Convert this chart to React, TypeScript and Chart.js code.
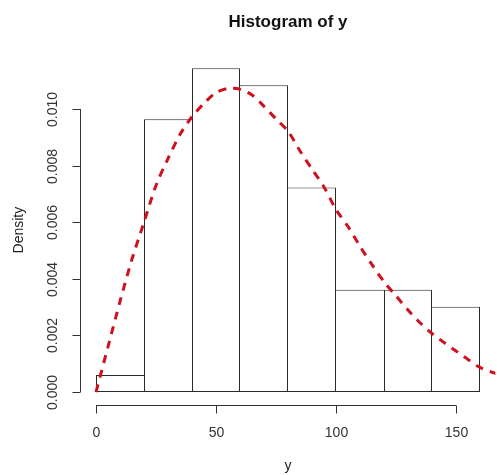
import React, { useEffect, useRef } from "react";
import { Chart, registerables } from "chart.js";

Chart.register(...registerables);

// Histogram bins (left edges, width 20) and densities
const binStarts = [0, 20, 40, 60, 80, 100, 120, 140];
const binWidth = 20;
const densities = [0.000602, 0.009639, 0.011446, 0.010843, 0.007229, 0.003614, 0.003614, 0.003012];

// Fitted density curve
const curveX = [0, 5, 10, 15, 20, 25, 30, 35, 40, 45, 50, 55, 60, 65, 70, 75, 80, 85, 90, 95, 100, 105, 110, 115, 120, 125, 130, 135, 140, 145, 150, 155, 160, 165, 168];
const curveY = [0, 0.0016, 0.0032, 0.0047, 0.006, 0.0073, 0.00825, 0.0091, 0.00973, 0.0102, 0.01058, 0.01073, 0.0107, 0.0105, 0.0101, 0.00965, 0.00922, 0.00852, 0.00788, 0.00725, 0.00645, 0.00585, 0.00515, 0.0045, 0.0039, 0.0034, 0.0029, 0.00245, 0.00207, 0.00175, 0.00145, 0.00115, 0.00087, 0.0007, 0.00062];

// Axis ticks
const xTicks = [0, 50, 100, 150];
const yTicks = [0, 0.002, 0.004, 0.006, 0.008, 0.01];

const titleText = "Histogram of y";
const xTitle = "y";
const yTitle = "Density";

const FONT = "'Liberation Sans', Arial, sans-serif";

export default function App() {
  const ref = useRef<HTMLCanvasElement | null>(null);

  useEffect(() => {
    const canvas = ref.current;
    if (!canvas) return;

    const xLo = binStarts[0];
    const xHi = binStarts[binStarts.length - 1] + binWidth;
    const xExt = (xHi - xLo) * 0.04;
    const yHi = Math.max(...densities);
    const yExt = yHi * 0.04;
    const last = densities.length - 1;

    const axesPlugin = {
      id: "rAxes",
      afterDraw(chart: any) {
        const ctx = chart.ctx as CanvasRenderingContext2D;
        const xs = chart.scales.x;
        const ys = chart.scales.y;
        const area = chart.chartArea;
        ctx.save();
        ctx.strokeStyle = "#333";
        ctx.fillStyle = "#333";
        ctx.lineWidth = 1;

        // x axis
        const xAxisY = Math.round(area.bottom) + 0.5;
        ctx.beginPath();
        ctx.moveTo(xs.getPixelForValue(xTicks[0]), xAxisY);
        ctx.lineTo(xs.getPixelForValue(xTicks[xTicks.length - 1]), xAxisY);
        ctx.stroke();
        ctx.font = `14px ${FONT}`;
        ctx.textAlign = "center";
        ctx.textBaseline = "middle";
        xTicks.forEach((t) => {
          const px = Math.round(xs.getPixelForValue(t)) + 0.5;
          ctx.beginPath();
          ctx.moveTo(px, xAxisY);
          ctx.lineTo(px, xAxisY + 8);
          ctx.stroke();
          ctx.fillText(String(t), px, xAxisY + 28);
        });

        // y axis
        const yAxisX = Math.round(area.left) - 0.5;
        ctx.beginPath();
        ctx.moveTo(yAxisX, ys.getPixelForValue(yTicks[0]));
        ctx.lineTo(yAxisX, ys.getPixelForValue(yTicks[yTicks.length - 1]));
        ctx.stroke();
        yTicks.forEach((t) => {
          const py = Math.round(ys.getPixelForValue(t)) + 0.5;
          ctx.beginPath();
          ctx.moveTo(yAxisX, py);
          ctx.lineTo(yAxisX - 8, py);
          ctx.stroke();
          ctx.save();
          ctx.translate(yAxisX - 27, py);
          ctx.rotate(-Math.PI / 2);
          ctx.fillText(t.toFixed(3), 0, 0);
          ctx.restore();
        });

        // titles
        const cx = (area.left + area.right) / 2;
        const cy = (area.top + area.bottom) / 2;
        ctx.fillStyle = "#222";
        ctx.fillText(xTitle, cx, 466);
        ctx.save();
        ctx.translate(19, cy);
        ctx.rotate(-Math.PI / 2);
        ctx.fillText(yTitle, 0, 0);
        ctx.restore();

        ctx.font = `bold 17px ${FONT}`;
        ctx.fillStyle = "#111";
        ctx.fillText(titleText, cx, 22);
        ctx.restore();
      },
    };

    const chart = new Chart(canvas, {
      type: "bar",
      data: {
        datasets: [
          {
            type: "line",
            order: 1,
            data: curveX.map((x, i) => ({ x, y: curveY[i] })),
            borderColor: "rgb(205,18,30)",
            borderWidth: 3,
            borderDash: [8, 7],
            borderCapStyle: "butt",
            pointRadius: 0,
            tension: 0.3,
            fill: false,
          } as any,
          {
            type: "bar",
            order: 2,
            data: binStarts.map((b, i) => ({ x: b + binWidth / 2, y: densities[i] })),
            backgroundColor: "#ffffff",
            borderColor: "#2a2a2a",
            borderWidth: (c: any) => {
              const i = c.dataIndex;
              return {
                top: 1,
                bottom: 1,
                left: i === 0 || densities[i] >= densities[i - 1] ? 1 : 0,
                right: i === last || densities[i] > densities[i + 1] ? 1 : 0,
              };
            },
            borderSkipped: false,
            inflateAmount: 0,
            barPercentage: 1,
            categoryPercentage: 1,
          } as any,
        ],
      },
      options: {
        responsive: false,
        animation: false,
        devicePixelRatio: 1,
        layout: { padding: { left: 80.64, right: 1.64, top: 55.2, bottom: 70 } },
        plugins: { legend: { display: false }, tooltip: { enabled: false }, title: { display: false } },
        scales: {
          x: { type: "linear", display: false, offset: false, min: xLo - xExt, max: xHi + xExt },
          y: { type: "linear", display: false, min: -yExt, max: yHi + yExt },
        },
      },
      plugins: [axesPlugin],
    });

    return () => chart.destroy();
  }, []);

  return (
    <div style={{ position: "absolute", left: 0, top: 0, width: 497, height: 475, background: "#fff" }}>
      <canvas ref={ref} width={497} height={475} style={{ display: "block" }} />
    </div>
  );
}
